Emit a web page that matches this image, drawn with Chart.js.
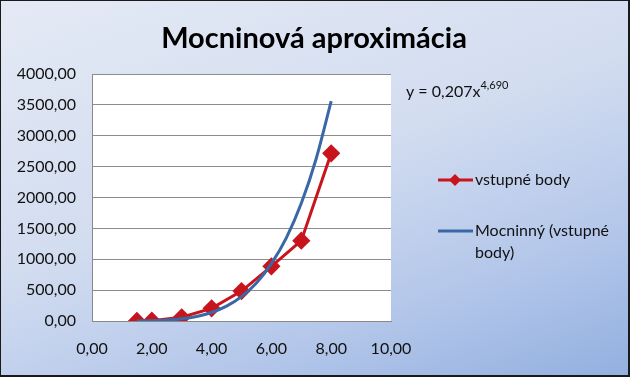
<!DOCTYPE html>
<html>
<head>
<meta charset="utf-8">
<script src="https://cdn.jsdelivr.net/npm/chart.js@4/dist/chart.umd.min.js"></script>
<style>
  html, body { margin: 0; padding: 0; }
  #wrap {
    width: 630px; height: 377px; box-sizing: border-box;
    border: 1px solid #1a1a1a; border-right-width: 2px; border-bottom-width: 2px;
    background: linear-gradient(160deg, #e4eaf5 0%, #d3ddf0 45%, #b4c7ea 75%, #93b0e0 100%);
  }
  canvas { display: block; }
</style>
</head>
<body>
<div id="wrap"><canvas id="chart" width="627" height="374"></canvas></div>
<script>
// input points
const inputX = [1.5, 2, 3, 4, 5, 6, 7, 8];
const inputY = [1, 5, 60, 205, 485, 885, 1300, 2715];

// power trendline
const trendX = [1.5, 2, 2.5, 3, 3.5, 4, 4.5, 5, 5.5, 6, 6.5, 7, 7.5, 8];
const trendY = [1, 5, 15, 36, 74, 138, 240, 395, 615, 930, 1347, 1906, 2632, 3560];

const xTicks = [0, 2, 4, 6, 8, 10];
const yTicks = [0, 500, 1000, 1500, 2000, 2500, 3000, 3500, 4000];

const titleText = "Mocninová aproximácia";
const seriesNames = ["vstupné body", "Mocninný (vstupné", "body)"];

const RED = "#c8141c";
const BLUE = "#3a68a6";
const FONT = "Lato, 'Open Sans', sans-serif";

function fmt(v) {
    return v.toFixed(2).replace(".", ",");
}

/* draws title, equation and legend */
const decor = {
    id: "decor",
    afterDraw(chart) {
        const ctx = chart.ctx;
        ctx.save();
        ctx.fillStyle = "#000";
        ctx.textAlign = "center";
        ctx.textBaseline = "alphabetic";
        ctx.font = "bold 29px " + FONT;
        ctx.fillText(titleText, 313, 47);

        // equation
        ctx.textAlign = "left";
        ctx.fillStyle = "#111";
        ctx.font = "16px " + FONT;
        ctx.fillText("y = 0,207x", 405, 96);
        const w = ctx.measureText("y = 0,207x").width;
        ctx.font = "11px " + FONT;
        ctx.fillText("4,690", 405 + w, 88);

        // legend
        ctx.lineWidth = 3;
        ctx.strokeStyle = RED;
        ctx.beginPath(); ctx.moveTo(437, 179); ctx.lineTo(472, 179); ctx.stroke();
        ctx.fillStyle = RED;
        ctx.beginPath();
        ctx.moveTo(454, 173); ctx.lineTo(460, 179); ctx.lineTo(454, 185); ctx.lineTo(448, 179);
        ctx.closePath(); ctx.fill();
        ctx.strokeStyle = BLUE;
        ctx.beginPath(); ctx.moveTo(437, 230); ctx.lineTo(472, 230); ctx.stroke();

        ctx.fillStyle = "#111";
        ctx.font = "16px " + FONT;
        ctx.textBaseline = "middle";
        ctx.fillText(seriesNames[0], 474, 179);
        ctx.fillText(seriesNames[1], 474, 230);
        ctx.fillText(seriesNames[2], 474, 252);
        ctx.restore();
    }
};

/* white plot area */
const plotBg = {
    id: "plotBg",
    beforeDraw(chart) {
        const a = chart.chartArea;
        chart.ctx.save();
        chart.ctx.fillStyle = "#fff";
        chart.ctx.fillRect(a.left, a.top, a.right - a.left, a.bottom - a.top);
        chart.ctx.restore();
    }
};

new Chart(document.getElementById("chart"), {
    type: "scatter",
    data: {
        datasets: [
            {
                label: seriesNames[0],
                data: inputX.map((x, i) => ({ x: x, y: inputY[i] })),
                showLine: true,
                borderColor: RED,
                backgroundColor: RED,
                borderWidth: 3,
                pointStyle: "rectRot",
                pointRadius: 7,
                pointHoverRadius: 7,
                order: 2
            },
            {
                label: "Mocninný (vstupné body)",
                data: trendX.map((x, i) => ({ x: x, y: trendY[i] })),
                showLine: true,
                borderColor: BLUE,
                borderWidth: 3,
                pointRadius: 0,
                cubicInterpolationMode: "monotone",
                order: 1
            }
        ]
    },
    options: {
        responsive: false,
        animation: false,
        layout: { padding: { top: 73, right: 237, left: 0, bottom: 0 } },
        plugins: {
            legend: { display: false },
            title: { display: false },
            tooltip: { enabled: false }
        },
        scales: {
            x: {
                type: "linear",
                min: 0,
                max: 10,
                afterBuildTicks: s => { s.ticks = xTicks.map(v => ({ value: v })); },
                afterFit: s => { s.height = 54; },
                grid: { display: false, drawTicks: false },
                border: { display: true, color: "#888", width: 1 },
                ticks: {
                    padding: 18,
                    color: "#111",
                    font: { family: FONT, size: 16 },
                    callback: v => fmt(v)
                }
            },
            y: {
                min: 0,
                max: 4000,
                afterBuildTicks: s => { s.ticks = yTicks.map(v => ({ value: v })); },
                afterFit: s => { s.width = 91; },
                grid: { color: "#8c8c8c", lineWidth: 1, drawTicks: false },
                border: { display: true, color: "#888", width: 1 },
                ticks: {
                    padding: 16,
                    color: "#111",
                    font: { family: FONT, size: 16 },
                    callback: v => fmt(v)
                }
            }
        }
    },
    plugins: [plotBg, decor]
});
</script>
</body>
</html>
